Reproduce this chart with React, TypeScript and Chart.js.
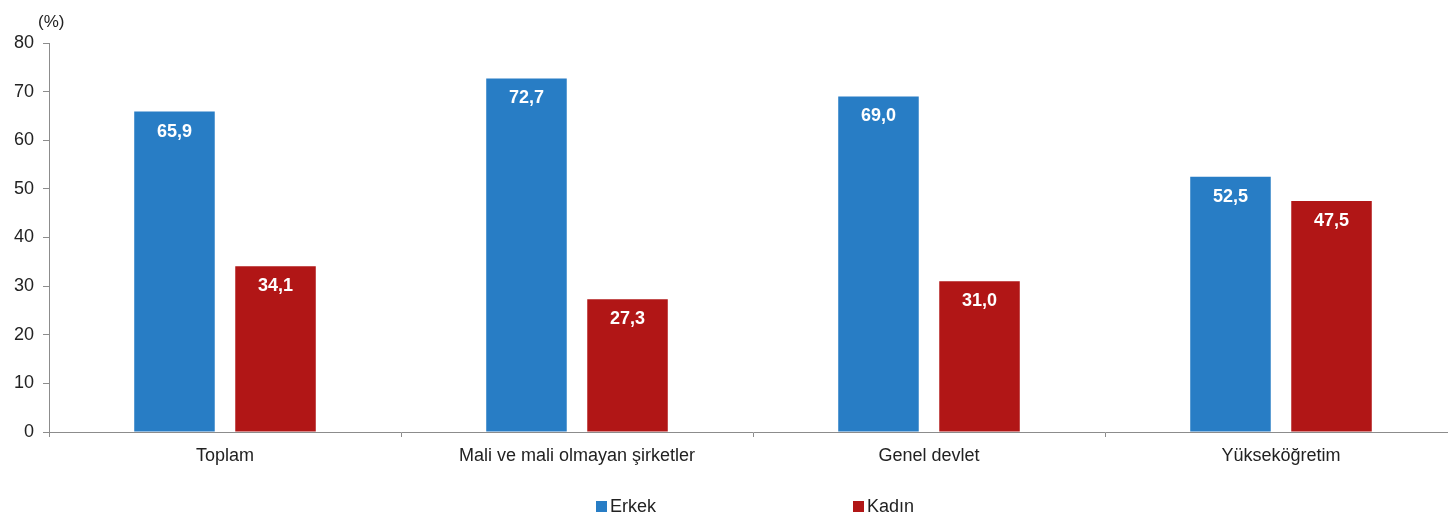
import React, { useEffect, useRef } from "react";
import { Chart, registerables } from "chart.js";

Chart.register(...registerables);

const categories = [
  "Toplam",
  "Mali ve mali olmayan şirketler",
  "Genel devlet",
  "Yükseköğretim",
];
const erkekValues = [65.9, 72.7, 69.0, 52.5];
const kadinValues = [34.1, 27.3, 31.0, 47.5];
const seriesNames = ["Erkek", "Kadın"];
const seriesColors = ["#287dc5", "#b11616"];
const yMin = 0;
const yMax = 80;
const yStep = 10;
const unitLabel = "(%)";

const FONT = "'Liberation Sans', Arial, sans-serif";
const FS = 18;
const TEXT = "#222222";
const AXIS = "#8c8c8c";

const fmt = (v: number) => v.toFixed(1).replace(".", ",");

const overlayPlugin = {
  id: "overlay",
  afterDatasetsDraw(chart: any) {
    const ctx = chart.ctx;
    ctx.save();
    // data labels
    ctx.font = `bold ${FS}px ${FONT}`;
    ctx.fillStyle = "#ffffff";
    ctx.textAlign = "center";
    ctx.textBaseline = "middle";
    chart.data.datasets.forEach((ds: any, i: number) => {
      const meta = chart.getDatasetMeta(i);
      meta.data.forEach((bar: any, j: number) => {
        ctx.fillText(fmt(ds.data[j]), bar.x, bar.y + 20);
      });
    });
    // unit label
    ctx.fillStyle = TEXT;
    ctx.font = `${FS - 1}px ${FONT}`;
    ctx.textAlign = "left";
    ctx.fillText(unitLabel, 38, 22);
    // legend
    ctx.font = `${FS}px ${FONT}`;
    const cx = (chart.chartArea.left + chart.chartArea.right) / 2;
    const offsets = [-157, 100];
    chart.data.datasets.forEach((ds: any, i: number) => {
      const x = cx + offsets[i];
      ctx.fillStyle = ds.backgroundColor;
      ctx.fillRect(x, 501, 11, 11);
      ctx.fillStyle = TEXT;
      ctx.textAlign = "left";
      ctx.textBaseline = "middle";
      ctx.fillText(ds.label, x + 14, 507);
    });
    ctx.restore();
  },
};

export default function App() {
  const ref = useRef<HTMLCanvasElement>(null);
  useEffect(() => {
    if (!ref.current) return;
    const chart = new Chart(ref.current, {
      type: "bar",
      data: {
        labels: categories,
        datasets: [
          {
            label: seriesNames[0],
            data: erkekValues,
            backgroundColor: seriesColors[0],
            categoryPercentage: 0.574,
            barPercentage: 0.797,
          },
          {
            label: seriesNames[1],
            data: kadinValues,
            backgroundColor: seriesColors[1],
            categoryPercentage: 0.574,
            barPercentage: 0.797,
          },
        ],
      },
      options: {
        responsive: false,
        animation: false,
        layout: { padding: { left: 0, right: 3, top: 43, bottom: 47 } },
        plugins: {
          legend: { display: false },
          tooltip: { enabled: false },
        },
        scales: {
          x: {
            grid: {
              offset: true,
              drawOnChartArea: false,
              drawTicks: true,
              tickLength: 5,
              color: AXIS,
            },
            border: { color: AXIS, width: 1 },
            ticks: {
              color: TEXT,
              font: { family: FONT, size: FS },
              padding: 8,
              maxRotation: 0,
            },
            afterFit(scale: any) {
              scale.height = 36;
            },
          },
          y: {
            min: yMin,
            max: yMax,
            grid: {
              drawOnChartArea: false,
              drawTicks: true,
              tickLength: 6,
              color: AXIS,
            },
            border: { color: AXIS, width: 1 },
            ticks: {
              stepSize: yStep,
              color: TEXT,
              font: { family: FONT, size: FS },
              padding: 9,
            },
            afterFit(scale: any) {
              scale.width = 49;
            },
          },
        },
      },
      plugins: [overlayPlugin],
    });
    return () => chart.destroy();
  }, []);
  return (
    <div
      style={{
        position: "fixed",
        left: 0,
        top: 0,
        width: 1448,
        height: 515,
        overflow: "hidden",
        background: "#ffffff",
      }}
    >
      <canvas ref={ref} width={1460} height={515} style={{ display: "block" }} />
    </div>
  );
}
